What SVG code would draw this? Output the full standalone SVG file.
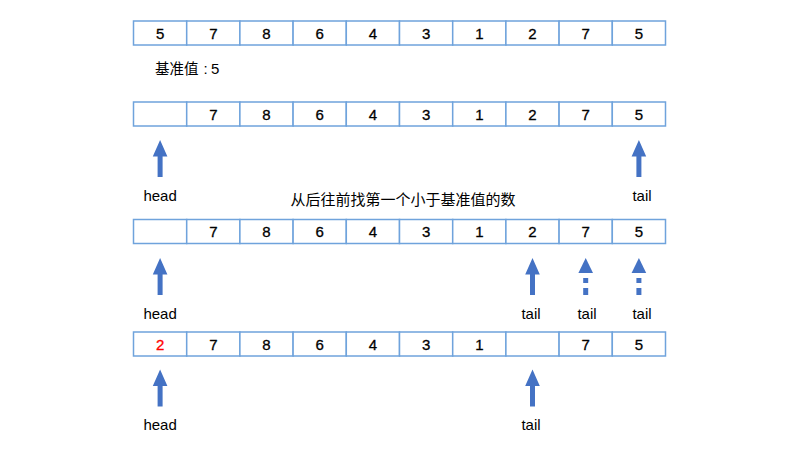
<svg xmlns="http://www.w3.org/2000/svg" width="800" height="450" viewBox="0 0 800 450">
<style>
.cell{fill:#fff;stroke:#6fa3dc;stroke-width:1.5}
.num{font-family:"Liberation Sans",Arial,sans-serif;font-size:15px;fill:#000;stroke:#000;stroke-width:0.3;text-anchor:middle}
.red{fill:#ff0000;stroke:#ff0000}
.lbl{font-family:"Liberation Sans","Noto Sans CJK SC",sans-serif;font-size:15px;fill:#000;text-anchor:middle}
.cjk{font-family:"Noto Sans CJK SC","Liberation Sans",sans-serif;font-size:14.5px;fill:#000}
.lat{font-family:"Liberation Sans",sans-serif;font-size:15px}
.cap{font-size:15px;text-anchor:middle}
.arr{fill:#4472c4}
</style>
<defs>
<g id="arrowSolid"><polygon class="arr" points="0,-18 7.3,-1.5 2.5,-1.5 2.5,19 -2.5,19 -2.5,-1.5 -7.3,-1.5"/></g>
<g id="arrowDash"><polygon class="arr" points="0,-18 7.3,-3 -7.3,-3"/><rect class="arr" x="-2.5" y="2" width="5" height="5"/><rect class="arr" x="-2.5" y="12" width="5" height="7"/></g>
</defs>
<g id="row1">
<rect class="cell" x="133.5" y="21" width="53.2" height="24"/><rect class="cell" x="186.7" y="21" width="53.2" height="24"/><rect class="cell" x="239.9" y="21" width="53.2" height="24"/><rect class="cell" x="293.1" y="21" width="53.2" height="24"/><rect class="cell" x="346.3" y="21" width="53.2" height="24"/><rect class="cell" x="399.5" y="21" width="53.2" height="24"/><rect class="cell" x="452.7" y="21" width="53.2" height="24"/><rect class="cell" x="505.9" y="21" width="53.2" height="24"/><rect class="cell" x="559.1" y="21" width="53.2" height="24"/><rect class="cell" x="612.3" y="21" width="53.2" height="24"/>
<text class="num" x="160.1" y="38.5">5</text><text class="num" x="213.3" y="38.5">7</text><text class="num" x="266.5" y="38.5">8</text><text class="num" x="319.7" y="38.5">6</text><text class="num" x="372.9" y="38.5">4</text><text class="num" x="426.1" y="38.5">3</text><text class="num" x="479.3" y="38.5">1</text><text class="num" x="532.5" y="38.5">2</text><text class="num" x="585.7" y="38.5">7</text><text class="num" x="638.9" y="38.5">5</text>
</g>
<g id="pivot"><text class="cjk" x="155" y="74">基准值<tspan class="lat" x="203.5">:</tspan><tspan class="lat" x="211">5</tspan></text></g>
<g id="row2">
<rect class="cell" x="133.5" y="102" width="53.2" height="24"/><rect class="cell" x="186.7" y="102" width="53.2" height="24"/><rect class="cell" x="239.9" y="102" width="53.2" height="24"/><rect class="cell" x="293.1" y="102" width="53.2" height="24"/><rect class="cell" x="346.3" y="102" width="53.2" height="24"/><rect class="cell" x="399.5" y="102" width="53.2" height="24"/><rect class="cell" x="452.7" y="102" width="53.2" height="24"/><rect class="cell" x="505.9" y="102" width="53.2" height="24"/><rect class="cell" x="559.1" y="102" width="53.2" height="24"/><rect class="cell" x="612.3" y="102" width="53.2" height="24"/>
<text class="num" x="213.3" y="119.5">7</text><text class="num" x="266.5" y="119.5">8</text><text class="num" x="319.7" y="119.5">6</text><text class="num" x="372.9" y="119.5">4</text><text class="num" x="426.1" y="119.5">3</text><text class="num" x="479.3" y="119.5">1</text><text class="num" x="532.5" y="119.5">2</text><text class="num" x="585.7" y="119.5">7</text><text class="num" x="638.9" y="119.5">5</text>
</g>
<g id="caption"><text class="cjk cap" x="403" y="205">从后往前找第一个小于基准值的数</text></g>
<g id="row3">
<rect class="cell" x="133.5" y="219.5" width="53.2" height="24"/><rect class="cell" x="186.7" y="219.5" width="53.2" height="24"/><rect class="cell" x="239.9" y="219.5" width="53.2" height="24"/><rect class="cell" x="293.1" y="219.5" width="53.2" height="24"/><rect class="cell" x="346.3" y="219.5" width="53.2" height="24"/><rect class="cell" x="399.5" y="219.5" width="53.2" height="24"/><rect class="cell" x="452.7" y="219.5" width="53.2" height="24"/><rect class="cell" x="505.9" y="219.5" width="53.2" height="24"/><rect class="cell" x="559.1" y="219.5" width="53.2" height="24"/><rect class="cell" x="612.3" y="219.5" width="53.2" height="24"/>
<text class="num" x="213.3" y="237">7</text><text class="num" x="266.5" y="237">8</text><text class="num" x="319.7" y="237">6</text><text class="num" x="372.9" y="237">4</text><text class="num" x="426.1" y="237">3</text><text class="num" x="479.3" y="237">1</text><text class="num" x="532.5" y="237">2</text><text class="num" x="585.7" y="237">7</text><text class="num" x="638.9" y="237">5</text>
</g>
<g id="row4">
<rect class="cell" x="133.5" y="332" width="53.2" height="24"/><rect class="cell" x="186.7" y="332" width="53.2" height="24"/><rect class="cell" x="239.9" y="332" width="53.2" height="24"/><rect class="cell" x="293.1" y="332" width="53.2" height="24"/><rect class="cell" x="346.3" y="332" width="53.2" height="24"/><rect class="cell" x="399.5" y="332" width="53.2" height="24"/><rect class="cell" x="452.7" y="332" width="53.2" height="24"/><rect class="cell" x="505.9" y="332" width="53.2" height="24"/><rect class="cell" x="559.1" y="332" width="53.2" height="24"/><rect class="cell" x="612.3" y="332" width="53.2" height="24"/>
<text class="num red" x="160.1" y="349.5">2</text><text class="num" x="213.3" y="349.5">7</text><text class="num" x="266.5" y="349.5">8</text><text class="num" x="319.7" y="349.5">6</text><text class="num" x="372.9" y="349.5">4</text><text class="num" x="426.1" y="349.5">3</text><text class="num" x="479.3" y="349.5">1</text><text class="num" x="585.7" y="349.5">7</text><text class="num" x="638.9" y="349.5">5</text>
</g>
<g id="connectors">
<use href="#arrowSolid" x="160.1" y="158"/>
<use href="#arrowSolid" x="638.9" y="158"/>
<use href="#arrowSolid" x="160.1" y="276"/>
<use href="#arrowSolid" x="532.5" y="276"/>
<use href="#arrowDash" x="585.7" y="276"/>
<use href="#arrowDash" x="638.9" y="276"/>
<use href="#arrowSolid" x="160.1" y="387.5"/>
<use href="#arrowSolid" x="532.5" y="387.5"/>
</g>
<g id="labels">
<text class="lbl" x="160.1" y="201">head</text>
<text class="lbl" x="642" y="201">tail</text>
<text class="lbl" x="160.1" y="319">head</text>
<text class="lbl" x="531" y="319">tail</text>
<text class="lbl" x="587" y="319">tail</text>
<text class="lbl" x="642" y="319">tail</text>
<text class="lbl" x="160.1" y="430">head</text>
<text class="lbl" x="531" y="430">tail</text>
</g>
</svg>
